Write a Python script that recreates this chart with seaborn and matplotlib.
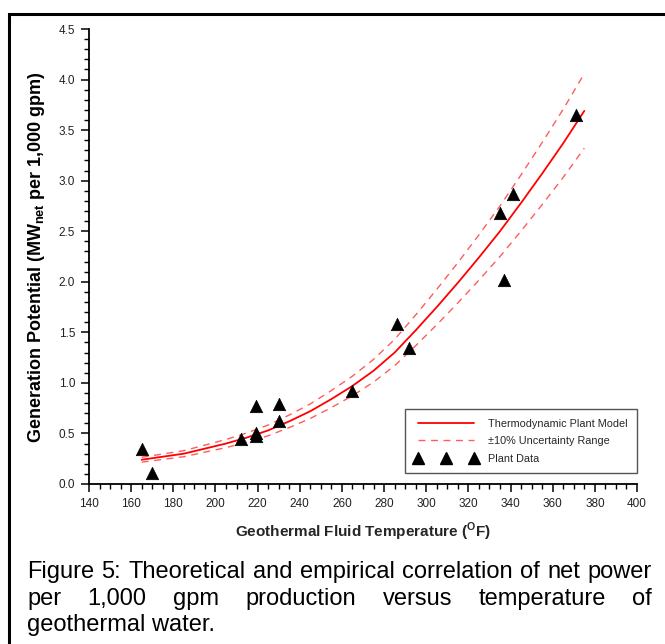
import matplotlib
matplotlib.use("Agg")
import matplotlib.pyplot as plt
from matplotlib.lines import Line2D
from matplotlib.patches import Rectangle
from matplotlib.ticker import MultipleLocator
import seaborn as sns
import pandas as pd
import numpy as np

# ---- data ----
model_temp = [165, 175, 185, 195, 205, 215, 225, 235, 245, 255, 265, 275,
              285, 295, 305, 315, 325, 335, 345, 355, 365, 375]
model_power = [0.24, 0.27, 0.30, 0.35, 0.40, 0.46, 0.53, 0.62, 0.72, 0.84, 0.97, 1.12,
               1.30, 1.52, 1.75, 1.99, 2.24, 2.50, 2.78, 3.07, 3.37, 3.69]
uncertainty = 0.10

plant_temp = [165, 170, 212, 219, 219, 219, 230, 230, 265, 286, 292, 335, 337, 341, 371]
plant_power = [0.35, 0.11, 0.45, 0.77, 0.50, 0.47, 0.79, 0.62, 0.92, 1.58, 1.35, 2.68, 2.02, 2.87, 3.65]

x_ticks = list(range(140, 401, 20))
y_ticks = [0.0, 0.5, 1.0, 1.5, 2.0, 2.5, 3.0, 3.5, 4.0, 4.5]

legend_labels = ["Thermodynamic Plant Model", "\u00b110% Uncertainty Range", "Plant Data"]
x_label = "Geothermal Fluid Temperature ($^{\\mathbf{O}}$F)"
y_label = "Generation Potential (MW$_{\\mathbf{net}}$ per 1,000 gpm)"
caption_lines = [
    "Figure 5: Theoretical and empirical correlation of net power",
    "per 1,000 gpm production versus temperature of",
    "geothermal water.",
]

# ---- style ----
sns.set_style("ticks")
plt.rcParams["font.family"] = ["Liberation Sans", "DejaVu Sans"]
plt.rcParams["mathtext.fontset"] = "custom"
plt.rcParams["mathtext.rm"] = "Liberation Sans"
plt.rcParams["mathtext.bf"] = "Liberation Sans:bold"

W, H = 665, 644
fig = plt.figure(figsize=(W / 100, H / 100), dpi=100)
fig.patch.set_facecolor("white")
ax = fig.add_axes([89 / W, 1 - 484 / H, (637 - 89) / W, (484 - 29) / H])

model_df = pd.DataFrame({"T": model_temp, "P": model_power})
model_df["Up"] = model_df["P"] * (1 + uncertainty)
model_df["Lo"] = model_df["P"] * (1 - uncertainty)
plant_df = pd.DataFrame({"T": plant_temp, "P": plant_power})

dash_col = "#ff5c5c"
sns.lineplot(data=model_df, x="T", y="Up", ax=ax, color=dash_col, lw=1.0,
             linestyle=(0, (5, 4)), sort=False)
sns.lineplot(data=model_df, x="T", y="Lo", ax=ax, color=dash_col, lw=1.0,
             linestyle=(0, (5, 4)), sort=False)
sns.lineplot(data=model_df, x="T", y="P", ax=ax, color="red", lw=1.3, sort=False)
sns.scatterplot(data=plant_df, x="T", y="P", ax=ax, marker="^", s=80,
                color="black", edgecolor="black", linewidth=0.5, zorder=5, clip_on=False)

ax.set_xlim(140, 400)
ax.set_ylim(0, 4.5)
ax.set_xticks(x_ticks)
ax.set_yticks(y_ticks)
ax.set_yticklabels([f"{v:.1f}" for v in y_ticks])
ax.xaxis.set_minor_locator(MultipleLocator(5))
ax.yaxis.set_minor_locator(MultipleLocator(0.1))
for s in ["top", "right"]:
    ax.spines[s].set_visible(False)
for s in ["left", "bottom"]:
    ax.spines[s].set_linewidth(1.3)
    ax.spines[s].set_color("black")
ax.tick_params(which="major", direction="out", length=6, width=1.1, labelsize=8.5,
               colors="black", labelcolor="#222222", pad=4)
ax.tick_params(which="minor", direction="out", length=3.5, width=1.0, colors="black")

ax.set_xlabel(x_label, fontsize=11, fontweight="bold", labelpad=8)
ax.set_ylabel("")
fig.text(37 / W, 1 - 257 / H, y_label, rotation=90, ha="center", va="center",
         fontsize=13, fontweight="bold", color="black")

handles = [
    Line2D([], [], color="red", lw=1.3),
    Line2D([], [], color=dash_col, lw=1.0, linestyle=(0, (5, 4))),
    Line2D([], [], color="black", marker="^", linestyle="none", markersize=9),
]
leg = ax.legend(handles, legend_labels, loc="lower right", bbox_to_anchor=(1.0, 0.024),
                borderaxespad=0, fontsize=7.8, handlelength=5.8, numpoints=3,
                frameon=True, fancybox=False, edgecolor="#555555", framealpha=1,
                labelspacing=0.7, handletextpad=1.0, borderpad=0.85)
leg.get_frame().set_linewidth(1.0)

# ---- outer frame (cropped at right/bottom) ----
fig.add_artist(Rectangle((9 / W, -0.2), 1.5, (H - 14) / H + 0.2,
                         transform=fig.transFigure, fill=False,
                         edgecolor="black", lw=2.2, clip_on=False))

# ---- justified caption ----
fig.canvas.draw()
r = fig.canvas.get_renderer()
x0, x1 = 27, 652
probe = fig.text(0, 0, caption_lines[0], fontsize=10)
w10 = probe.get_window_extent(r).width
probe.remove()
fs = min(17.0, 10 * (x1 - x0) / w10 * 0.99)
baselines = [578, 605, 631]
for i, (line, yb) in enumerate(zip(caption_lines, baselines)):
    if i == len(caption_lines) - 1:
        fig.text(x0 / W, 1 - yb / H, line, fontsize=fs, va="baseline", ha="left",
                 color="black")
        continue
    words = line.split(" ")
    texts = [fig.text(0, 1 - yb / H, w, fontsize=fs, va="baseline", ha="left",
                      color="black") for w in words]
    widths = [t.get_window_extent(r).width for t in texts]
    gap = (x1 - x0 - sum(widths)) / (len(words) - 1)
    x = x0
    for t, w in zip(texts, widths):
        t.set_x(x / W)
        x += w + gap

fig.savefig("out.png", dpi=100, facecolor="white")
